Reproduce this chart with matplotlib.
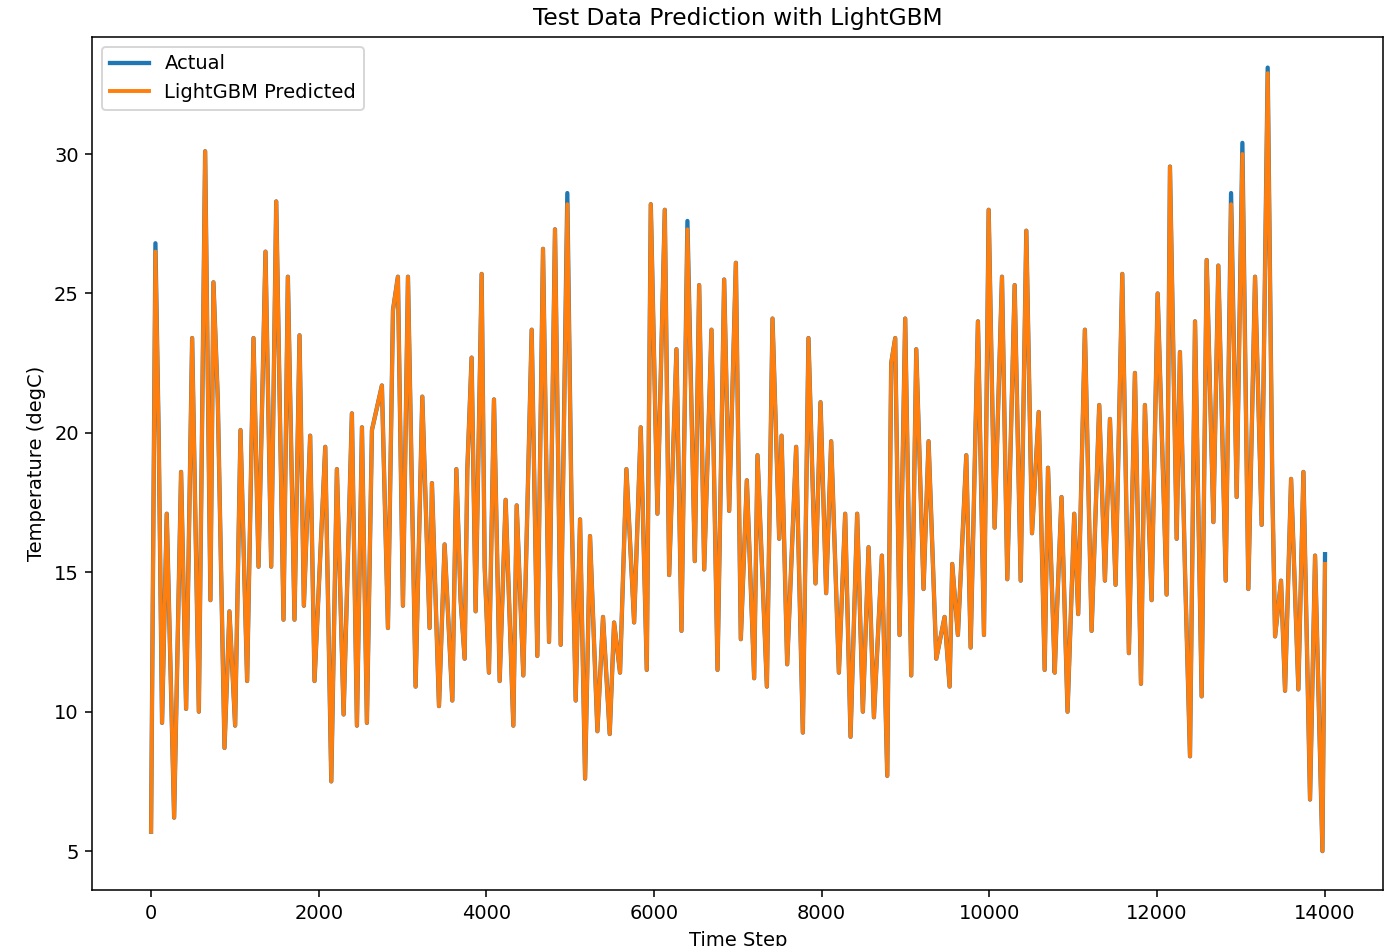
import matplotlib
matplotlib.use("Agg")
import matplotlib.pyplot as plt

# Successive local extremes of the actual series: (time step, degC)
time_step = [0, 52, 92, 131, 187, 275, 358, 418, 490, 570, 645, 708, 744, 796, 876, 935, 1003, 1067, 1146, 1222,
    1282, 1365, 1433, 1493, 1580, 1632, 1711, 1771, 1823, 1898, 1950, 2078, 2150, 2217, 2297, 2396, 2456, 2516, 2575, 2635,
    2754, 2826, 2886, 2945, 3005, 3065, 3156, 3236, 3323, 3351, 3435, 3502, 3594, 3642,
    3693, 3741, 3773, 3824, 3872, 3944, 3980, 4031, 4091, 4159, 4230, 4322, 4362, 4441, 4541, 4608, 4676, 4748, 4819, 4887,
    4966, 5015, 5066, 5118, 5178, 5237, 5325, 5392, 5472, 5524, 5595, 5671, 5763, 5842, 5914, 5962, 6041, 6129, 6181, 6268,
    6328, 6399, 6487, 6539, 6599, 6686, 6758, 6837, 6897, 6977, 7036, 7108, 7195, 7235, 7347, 7414, 7494, 7522,
    7589, 7696, 7776, 7843, 7927, 7987, 8054, 8114, 8206, 8281, 8345, 8424, 8492, 8560, 8624, 8719, 8783, 8830, 8878, 8930,
    8997, 9069, 9129, 9216, 9276, 9368, 9467, 9527, 9558, 9626, 9726, 9778, 9865, 9937, 9993, 10064, 10152, 10215, 10303, 10375,
    10442, 10510, 10590, 10661, 10701, 10781,
    10803, 10862, 10934, 11014, 11061, 11141, 11221, 11312, 11380, 11440, 11507, 11587, 11666, 11738, 11810, 11857, 11937, 12009, 12116, 12156,
    12236, 12275, 12335, 12395, 12455, 12534, 12594, 12674, 12733, 12821, 12885, 12952, 13020, 13091, 13171, 13250, 13322, 13378, 13410, 13481,
    13529, 13601, 13688, 13748, 13827, 13887, 13975, 14006]
actual = [5.7, 26.8, 19.7, 9.6, 17.1, 6.2, 18.6, 10.1, 23.4, 10.0, 30.1, 14.0, 25.4, 21.2, 8.7, 13.6, 9.5, 20.1, 11.1, 23.4,
    15.2, 26.5, 15.2, 28.3, 13.3, 25.6, 13.3, 23.5, 13.8, 19.9, 11.1, 19.5, 7.5, 18.7, 9.9, 20.7, 9.5, 20.2, 9.6, 20.1,
    21.7, 13.0, 24.4, 25.6, 13.8, 25.6, 10.9, 21.3, 13.0, 18.2, 10.2, 16.0, 10.4, 18.7,
    14.0, 11.9, 18.7, 22.7, 13.6, 25.7, 15.2, 11.4, 21.2, 11.1, 17.6, 9.5, 17.4, 11.3, 23.7, 12.0, 26.6, 12.5, 27.3, 12.4,
    28.6, 17.6, 10.4, 16.9, 7.6, 16.3, 9.3, 13.4, 9.2, 13.2, 11.4, 18.7, 13.2, 20.2, 11.5, 28.2, 17.1, 28.0, 14.9, 23.0,
    12.9, 27.6, 15.4, 25.3, 15.1, 23.7, 11.5, 25.5, 17.2, 26.1, 12.6, 18.3, 11.2, 19.2, 10.9, 24.1, 16.2, 19.9,
    11.7, 19.5, 9.25, 23.4, 14.6, 21.1, 14.25, 19.7, 11.4, 17.1, 9.1, 17.1, 10.0, 15.9, 9.8, 15.6, 7.7, 22.5, 23.4, 12.75,
    24.1, 11.3, 23.0, 14.4, 19.7, 11.9, 13.4, 10.9, 15.3, 12.75, 19.2, 12.3, 24.0, 12.75, 28.0, 16.6, 25.6, 14.75, 25.3, 14.7,
    27.25, 16.4, 20.75, 11.5, 18.75, 11.4,
    13.25, 17.7, 10.0, 17.1, 13.5, 23.7, 12.9, 21.0, 14.7, 20.5, 14.55, 25.7, 12.1, 22.15, 11.0, 21.0, 14.0, 25.0, 14.2, 29.55,
    16.2, 22.9, 15.1, 8.4, 24.0, 10.55, 26.2, 16.8, 26.0, 14.7, 28.6, 17.7, 30.4, 14.4, 25.6, 16.7, 33.1, 17.9, 12.7, 14.7,
    10.75, 18.35, 10.8, 18.6, 6.85, 15.6, 5.0, 15.65]
# Predicted values differ visibly from the actual ones only at a few peaks: {time step: degC}
pred_overrides = {52: 26.5, 4966: 28.2, 6399: 27.3, 12885: 28.2, 13020: 30.0, 13322: 32.9, 14006: 15.3}
predicted = [pred_overrides.get(t, v) for t, v in zip(time_step, actual)]

fig = plt.figure(figsize=(10, 946/140), dpi=140)
ax = fig.add_axes([0.066, 0.059, 0.922, 0.902])
ax.plot(time_step, actual, color="#1f77b4", lw=2.2, label="Actual")
ax.plot(time_step, predicted, color="#ff7f0e", lw=2.0, label="LightGBM Predicted")
ax.set_xlim(-700, 14700)
ax.set_ylim(3.6, 34.2)
ax.set_yticks([5, 10, 15, 20, 25, 30])
ax.set_title("Test Data Prediction with LightGBM")
ax.set_xlabel("Time Step")
ax.set_ylabel("Temperature (degC)")
ax.legend(loc="upper left")
fig.savefig("out.png", dpi=140)
